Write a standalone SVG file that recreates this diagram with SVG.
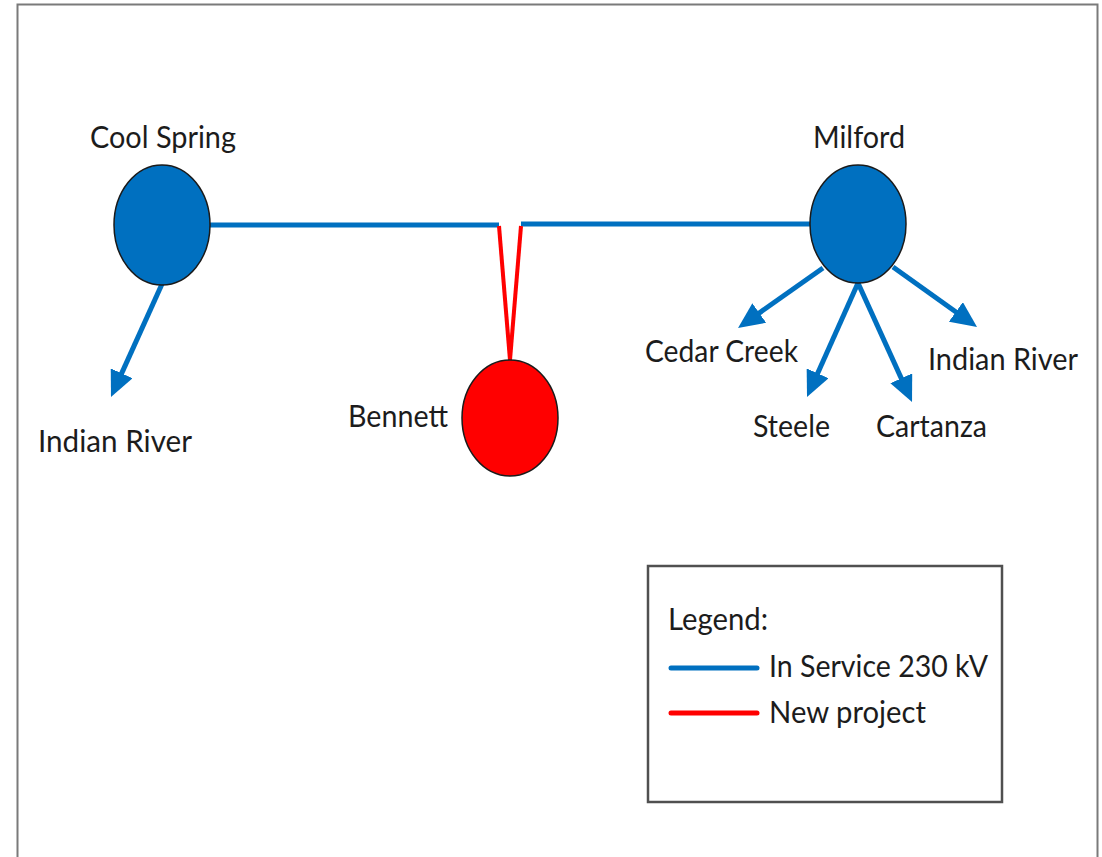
<svg xmlns="http://www.w3.org/2000/svg" width="1102" height="857" viewBox="0 0 1102 857">
  <style>
    .lbl { font-family: Lato, "Liberation Sans", sans-serif; font-size: 31px; fill: #1c1c1c; }
    .blue { stroke: #0070C0; stroke-width: 5; fill: none; }
    .red { stroke: #FF0000; stroke-width: 4; fill: none; }
    .node { stroke: #1a1a1a; stroke-width: 1.5; }
  </style>
  <defs>
    <marker id="arrow" viewBox="0 0 26 24" refX="16" refY="12" markerWidth="26" markerHeight="24" markerUnits="userSpaceOnUse" orient="auto">
      <path d="M0,0 L26,12 L0,24 Z" fill="#0070C0"/>
    </marker>
  </defs>
  <rect x="0" y="0" width="1102" height="857" fill="#ffffff"/>
  <rect x="17.5" y="4.5" width="1080" height="870" fill="none" stroke="#7a7a7a" stroke-width="2"/>

  <g id="connectors">
    <line class="blue" x1="208" y1="225" x2="499" y2="225"/>
    <line class="blue" x1="521" y1="224" x2="812" y2="224"/>
    <line class="red" x1="499" y1="226" x2="510" y2="360"/>
    <line class="red" x1="521" y1="226" x2="510" y2="360"/>
    <line class="blue" x1="162" y1="284" x2="115.1" y2="387.9" marker-end="url(#arrow)"/>
    <line class="blue" x1="823" y1="268" x2="746.2" y2="322.2" marker-end="url(#arrow)"/>
    <line class="blue" x1="858" y1="283" x2="811.1" y2="387.9" marker-end="url(#arrow)"/>
    <line class="blue" x1="858" y1="283" x2="907.9" y2="392.9" marker-end="url(#arrow)"/>
    <line class="blue" x1="893" y1="267" x2="968.9" y2="321.2" marker-end="url(#arrow)"/>
  </g>

  <g id="cool-spring">
    <ellipse class="node" cx="162" cy="225" rx="48" ry="60" fill="#0070C0"/>
    <text class="lbl" x="90" y="148" textLength="146" lengthAdjust="spacingAndGlyphs">Cool Spring</text>
  </g>
  <g id="milford">
    <ellipse class="node" cx="858" cy="224" rx="48" ry="59" fill="#0070C0"/>
    <text class="lbl" x="813" y="148" textLength="92" lengthAdjust="spacingAndGlyphs">Milford</text>
  </g>
  <g id="bennett">
    <ellipse class="node" cx="510" cy="418" rx="48" ry="58" fill="#FF0000"/>
    <text class="lbl" x="348" y="427" textLength="100" lengthAdjust="spacingAndGlyphs">Bennett</text>
  </g>
  <g id="indian-river-west">
    <text class="lbl" x="38" y="452" textLength="154" lengthAdjust="spacingAndGlyphs">Indian River</text>
  </g>
  <g id="cedar-creek">
    <text class="lbl" x="645" y="362" textLength="153" lengthAdjust="spacingAndGlyphs">Cedar Creek</text>
  </g>
  <g id="steele">
    <text class="lbl" x="753" y="437" textLength="77" lengthAdjust="spacingAndGlyphs">Steele</text>
  </g>
  <g id="cartanza">
    <text class="lbl" x="876" y="437" textLength="111" lengthAdjust="spacingAndGlyphs">Cartanza</text>
  </g>
  <g id="indian-river-east">
    <text class="lbl" x="928" y="370" textLength="150" lengthAdjust="spacingAndGlyphs">Indian River</text>
  </g>

  <g id="legend">
    <rect x="648" y="566" width="354" height="236" fill="#ffffff" stroke="#505050" stroke-width="2.5"/>
    <text class="lbl" x="668" y="630" textLength="100" lengthAdjust="spacingAndGlyphs">Legend:</text>
    <line x1="671" y1="668" x2="757" y2="668" stroke="#0070C0" stroke-width="5" stroke-linecap="round"/>
    <text class="lbl" x="769" y="677" textLength="219" lengthAdjust="spacingAndGlyphs">In Service 230 kV</text>
    <line x1="671" y1="713" x2="757" y2="713" stroke="#FF0000" stroke-width="5" stroke-linecap="round"/>
    <text class="lbl" x="769" y="723" textLength="157" lengthAdjust="spacingAndGlyphs">New project</text>
  </g>
</svg>
